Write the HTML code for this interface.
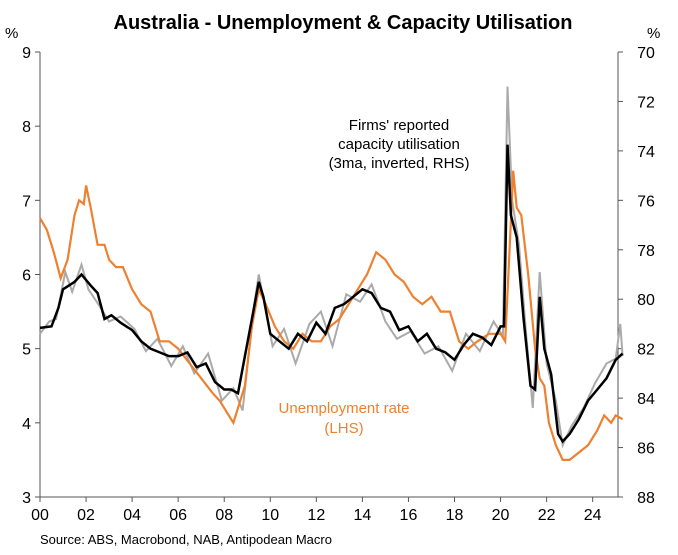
<!DOCTYPE html>
<html><head><meta charset="utf-8"><style>
body{margin:0;background:#fff;font-family:"Liberation Sans",Arial,sans-serif}
svg text{font-family:"Liberation Sans",Arial,sans-serif}
</style></head><body>
<svg id="chart" width="678" height="550">
<text x="343" y="29" text-anchor="middle" font-size="20" font-weight="bold">Australia - Unemployment &amp; Capacity Utilisation</text>
<text x="5" y="38" font-size="15">%</text>
<text x="647" y="38" font-size="15">%</text>
<g id="axes"></g>
<g id="series"></g>
<text x="399" y="130" text-anchor="middle" font-size="15"><tspan x="399">Firms' reported</tspan><tspan x="399" dy="19">capacity utilisation</tspan><tspan x="399" dy="19">(3ma, inverted, RHS)</tspan></text>
<text x="344" y="413" text-anchor="middle" font-size="15" fill="#ee8030"><tspan x="344">Unemployment rate</tspan><tspan x="344" dy="20">(LHS)</tspan></text>
<text x="40" y="544" font-size="13">Source: ABS, Macrobond, NAB, Antipodean Macro</text>
</svg>
<script>
const yTicksL=[3,4,5,6,7,8,9];
const yTicksR=[70,72,74,76,78,80,82,84,86,88];
const xTickYears=[2000,2002,2004,2006,2008,2010,2012,2014,2016,2018,2020,2022,2024];
const xTickLabels=["00","02","04","06","08","10","12","14","16","18","20","22","24"];
const urYears=[2000.0,2000.3,2000.6,2000.9,2001.2,2001.5,2001.7,2001.9,2002.0,2002.2,2002.5,2002.8,2003.0,2003.3,2003.6,2004.0,2004.4,2004.8,2005.2,2005.6,2006.0,2006.5,2007.0,2007.5,2007.8,2008.2,2008.4,2008.7,2008.9,2009.2,2009.5,2009.8,2010.2,2010.6,2011.0,2011.4,2011.8,2012.2,2012.6,2013.0,2013.4,2013.8,2014.2,2014.6,2015.0,2015.4,2015.8,2016.2,2016.6,2017.0,2017.4,2017.8,2018.2,2018.6,2019.0,2019.5,2020.0,2020.2,2020.4,2020.55,2020.7,2020.9,2021.2,2021.5,2021.7,2021.9,2022.1,2022.4,2022.7,2023.0,2023.4,2023.8,2024.2,2024.5,2024.8,2025.0,2025.3];
const urValues=[6.76,6.6,6.3,5.95,6.2,6.8,7.0,6.95,7.2,6.9,6.4,6.4,6.2,6.1,6.1,5.8,5.6,5.5,5.1,5.1,5.0,4.8,4.6,4.4,4.3,4.1,4.0,4.3,4.5,5.3,5.8,5.6,5.3,5.1,5.0,5.2,5.1,5.1,5.3,5.4,5.6,5.8,6.0,6.3,6.2,6.0,5.9,5.7,5.6,5.7,5.5,5.5,5.1,5.0,5.1,5.2,5.2,5.1,6.4,7.4,6.9,6.8,6.0,5.0,4.6,4.5,4.0,3.7,3.5,3.5,3.6,3.7,3.9,4.1,4.0,4.1,4.05];
const capYears=[2000.0,2000.5,2000.8,2001.0,2001.5,2001.8,2002.2,2002.5,2002.8,2003.1,2003.5,2004.0,2004.4,2004.8,2005.2,2005.6,2006.0,2006.4,2006.8,2007.2,2007.6,2008.0,2008.3,2008.6,2008.9,2009.2,2009.5,2009.7,2010.0,2010.4,2010.8,2011.2,2011.6,2012.0,2012.4,2012.8,2013.2,2013.6,2014.0,2014.4,2014.8,2015.2,2015.6,2016.0,2016.4,2016.8,2017.2,2017.6,2018.0,2018.4,2018.8,2019.2,2019.6,2020.0,2020.15,2020.3,2020.45,2020.7,2021.0,2021.3,2021.5,2021.7,2021.9,2022.2,2022.5,2022.7,2023.0,2023.4,2023.8,2024.2,2024.6,2025.0,2025.3];
const capValues=[81.16,81.1,80.35,79.6,79.3,79,79.45,79.75,80.8,80.65,80.95,81.25,81.7,82,82.15,82.3,82.3,82.15,82.75,82.6,83.35,83.65,83.65,83.8,82.3,80.8,79.3,79.9,81.4,81.7,82,81.4,81.7,80.95,81.4,80.35,80.2,79.9,79.6,79.75,80.35,80.5,81.25,81.1,81.7,81.4,82,82.15,82.45,81.85,81.4,81.55,81.85,81.1,81.1,73.75,76.6,77.5,80.8,83.5,83.65,79.9,82,83.05,85.45,85.75,85.45,84.85,84.1,83.65,83.2,82.45,82.2];
const rawYears=[2000.0,2000.4,2000.7,2001.1,2001.4,2001.8,2002.1,2002.6,2003.0,2003.5,2004.1,2004.6,2005.1,2005.7,2006.2,2006.7,2007.3,2007.9,2008.4,2008.8,2009.3,2009.5,2010.1,2010.6,2011.1,2011.7,2012.2,2012.7,2013.3,2013.9,2014.4,2015.0,2015.5,2016.1,2016.7,2017.3,2017.9,2018.5,2019.1,2019.7,2020.1,2020.3,2020.5,2020.8,2021.1,2021.4,2021.7,2022.0,2022.4,2022.7,2023.1,2023.6,2024.1,2024.6,2025.0,2025.2,2025.3];
const rawValues=[81.4,80.9,80.8,78.9,79.7,78.6,79.6,80.3,80.9,80.7,81.2,82.1,81.6,82.7,81.9,83.0,82.2,84.1,83.6,84.5,80.2,79.0,81.9,81.2,82.6,81.0,80.5,81.9,79.8,80.1,79.4,80.9,81.6,81.3,82.2,81.9,82.9,81.4,82.1,80.9,81.5,71.4,76.0,77.8,81.3,84.4,78.9,82.6,84.1,85.9,85.1,84.4,83.4,82.6,82.4,81.0,82.3];
const L=40,R=618,T=52,B=497,X0=2000,X1=2025.1;
const xS=y=>L+(y-X0)/(X1-X0)*(R-L);
const yL=v=>T+(9-v)/6*(B-T);
const yR=v=>T+(v-70)/18*(B-T);
const NS="http://www.w3.org/2000/svg";
const ax=document.getElementById('axes'),sg=document.getElementById('series');
function mk(tag,attrs,parent){const e=document.createElementNS(NS,tag);for(const k in attrs)e.setAttribute(k,attrs[k]);parent.appendChild(e);return e;}
let e;
e=mk('line',{x1:L,y1:T,x2:L,y2:B,stroke:'#555','stroke-width':1},ax);


e=mk('line',{x1:R,y1:T,x2:R,y2:B,stroke:'#555','stroke-width':1},ax);


e=mk('line',{x1:L,y1:B,x2:R,y2:B,stroke:'#555','stroke-width':1},ax);


yTicksL.forEach(v=>{
 const y=yL(v);
 mk('line',{x1:L-5,y1:y,x2:L,y2:y,stroke:'#555'},ax);
 e=mk('text',{x:L-9,y:y+6,'text-anchor':'end','font-size':16},ax);e.textContent=v;
 
 
});
yTicksR.forEach(v=>{
 const y=yR(v);
 mk('line',{x1:R,y1:y,x2:R+5,y2:y,stroke:'#555'},ax);
 e=mk('text',{x:R+28,y:y+6,'text-anchor':'middle','font-size':16},ax);e.textContent=v;
 
 
});
xTickYears.forEach((yr,i)=>{
 const x=xS(yr);
 mk('line',{x1:x,y1:B,x2:x,y2:B+5,stroke:'#555'},ax);
 e=mk('text',{x:x,y:B+23,'text-anchor':'middle','font-size':16},ax);e.textContent=xTickLabels[i];
 
 
});
function path(xs,vs,f){return xs.map((x,i)=>(i?'L':'M')+xS(x).toFixed(1)+','+f(vs[i]).toFixed(1)).join(' ');}
e=mk('path',{d:path(rawYears,rawValues,yR),fill:'none',stroke:'#aaa','stroke-width':2},sg);


e=mk('path',{d:path(urYears,urValues,yL),fill:'none',stroke:'#ee8030','stroke-width':2.2},sg);


e=mk('path',{d:path(capYears,capValues,yR),fill:'none',stroke:'#000','stroke-width':2.5},sg);


</script>
</body></html>
